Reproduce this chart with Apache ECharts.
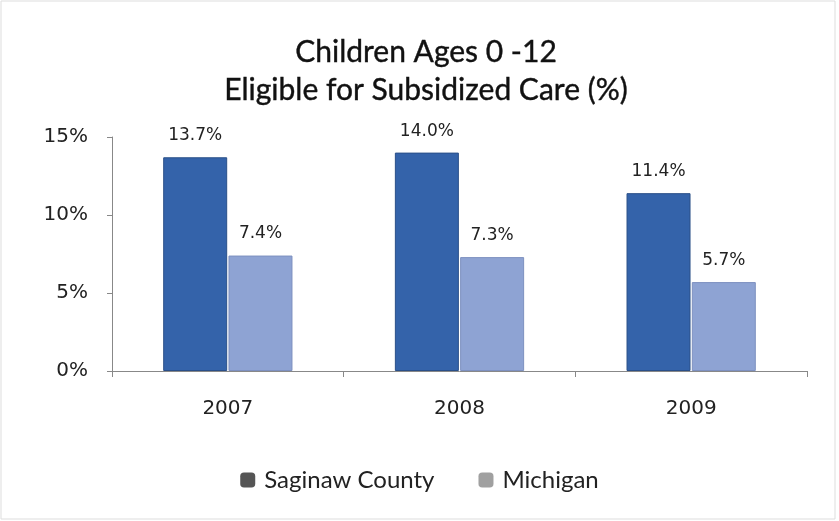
<!DOCTYPE html>
<html>
<head>
<meta charset="utf-8">
<script src="https://cdn.jsdelivr.net/npm/echarts@6/dist/echarts.min.js"></script>
<style>
  html, body { margin: 0; padding: 0; background: #fff; }
  #chart { width: 839px; height: 521px; }
</style>
</head>
<body>
<div id="chart"></div>
<script>
const years = ['2007', '2008', '2009'];
const saginaw = [13.7, 14.0, 11.4];
const michigan = [7.4, 7.3, 5.7];
const yTicks = [0, 5, 10, 15];

const chart = echarts.init(document.getElementById('chart'));

const labelStyle = {
  show: true,
  position: 'top',
  distance: 13,
  fontFamily: 'DejaVu Sans',
  fontSize: 17,
  color: '#222',
  formatter: p => p.value.toFixed(1) + '%'
};

const option = {
  backgroundColor: '#fff',
  animation: false,
  title: {
    text: 'Children Ages 0 -12\nEligible for Subsidized Care (%)',
    left: 421,
    textAlign: 'center',
    top: 28,
    textStyle: {
      fontFamily: 'Lato',
      fontSize: 30,
      fontWeight: 'normal',
      color: '#111',
      lineHeight: 38,
      textBorderColor: '#111',
      textBorderWidth: 0.4
    }
  },
  graphic: [{
    type: 'rect',
    shape: { x: 1, y: 1, width: 834, height: 518 },
    style: { fill: 'none', stroke: '#ddd', lineWidth: 1 }
  }],
  legend: {
    bottom: 24,
    left: 'center',
    itemWidth: 15,
    itemHeight: 15,
    itemGap: 44,
    textStyle: { fontFamily: 'Lato', fontSize: 24, color: '#222', padding: [0, 0, 0, 4] },
    data: [
      { name: 'Saginaw County', itemStyle: { color: '#555', borderWidth: 0 } },
      { name: 'Michigan', itemStyle: { color: '#a0a0a0', borderWidth: 0 } }
    ]
  },
  grid: { left: 112, right: 32, top: 137, bottom: 150 },
  xAxis: {
    type: 'category',
    data: years,
    axisLine: { lineStyle: { color: '#888' } },
    axisTick: { show: true, alignWithLabel: false, length: 6, lineStyle: { color: '#888' } },
    axisLabel: { fontFamily: 'DejaVu Sans', fontSize: 20, color: '#222', margin: 28 }
  },
  yAxis: {
    type: 'value',
    min: 0,
    max: 15,
    interval: 5,
    splitLine: { show: false },
    axisLine: { show: true, lineStyle: { color: '#888' } },
    axisTick: { show: true, length: 5, lineStyle: { color: '#888' } },
    axisLabel: {
      fontFamily: 'DejaVu Sans',
      fontSize: 20,
      color: '#222',
      margin: 24,
      formatter: v => (yTicks.includes(v) ? v + '%' : '')
    }
  },
  series: [
    {
      name: 'Saginaw County',
      type: 'bar',
      data: saginaw,
      barWidth: 64,
      barGap: '2%',
      itemStyle: { color: '#3463aa', borderColor: '#2a4f88', borderWidth: 1 },
      label: labelStyle
    },
    {
      name: 'Michigan',
      type: 'bar',
      data: michigan,
      barWidth: 64,
      itemStyle: { color: '#8ea3d3', borderColor: '#7d90bf', borderWidth: 1 },
      label: labelStyle
    }
  ]
};

chart.setOption(option);
</script>
</body>
</html>
